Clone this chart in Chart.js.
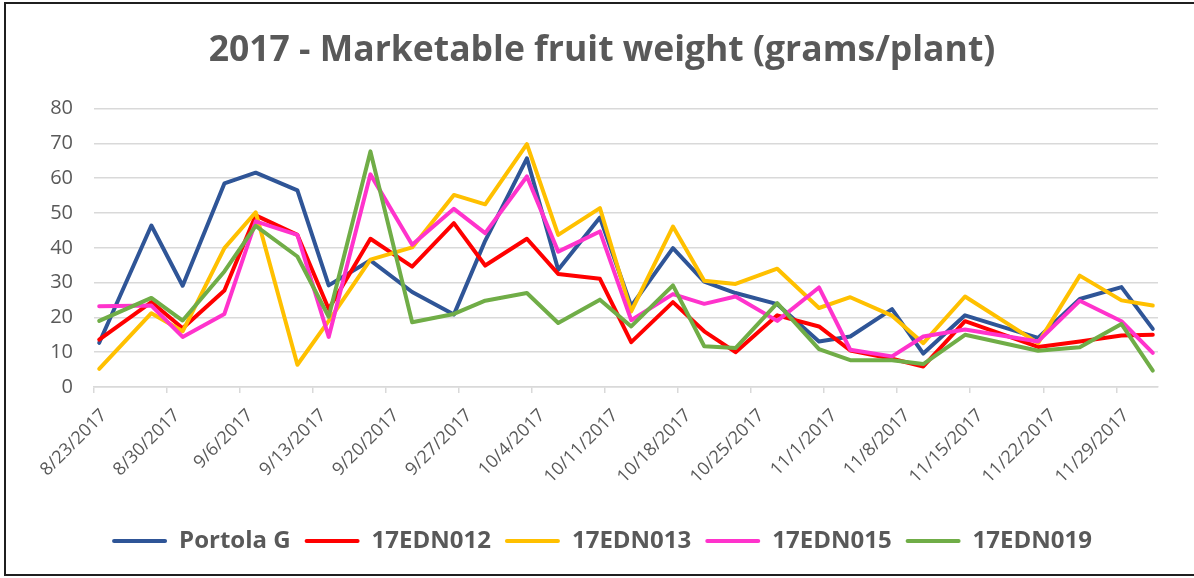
<!DOCTYPE html>
<html>
<head>
<meta charset="utf-8">
<title>2017 - Marketable fruit weight</title>
<script src="https://cdn.jsdelivr.net/npm/chart.js@4/dist/chart.umd.min.js"></script>
<style>
  html, body { margin: 0; padding: 0; background: #fff; overflow: hidden; }
  #wrap { position: relative; width: 1194px; height: 578px; }
  #frame {
    position: absolute; left: 4px; top: 2px; width: 1210px; height: 570px;
    border: 2px solid #1f1f1f; pointer-events: none;
  }
</style>
</head>
<body>
<div id="wrap">
  <canvas id="chart" width="1194" height="578"></canvas>
  <div id="frame"></div>
</div>
<script>
// Harvest dates (x categories)
const harvestDates = [
  '8/23/2017', '8/28/2017', '8/31/2017', '9/4/2017', '9/7/2017', '9/11/2017', '9/14/2017',
  '9/18/2017', '9/22/2017', '9/26/2017', '9/29/2017', '10/3/2017', '10/6/2017', '10/10/2017',
  '10/13/2017', '10/17/2017', '10/20/2017', '10/23/2017', '10/27/2017', '10/31/2017', '11/3/2017',
  '11/7/2017', '11/10/2017', '11/14/2017', '11/21/2017', '11/25/2017', '11/29/2017', '12/2/2017'
];

// Marketable fruit weight, grams/plant
const portolaG = [12.7, 46.4, 29.1, 58.5, 61.6, 56.5, 29.2, 36.4, 27.3, 20.8, 42.0, 65.7, 33.7, 48.7,
  23.2, 39.9, 30.3, 27.0, 23.8, 13.1, 14.5, 22.4, 9.6, 20.6, 14.1, 25.3, 28.7, 16.7];
const edn012 = [13.6, 24.4, 16.9, 27.7, 49.3, 43.7, 22.4, 42.6, 34.6, 47.1, 34.9, 42.6, 32.5, 31.1,
  12.9, 24.4, 16.0, 10.0, 20.6, 17.4, 10.5, 8.1, 5.9, 18.9, 11.5, 13.1, 14.8, 15.0];
const edn013 = [5.2, 21.2, 16.0, 39.9, 50.2, 6.4, 19.0, 36.6, 40.1, 55.2, 52.5, 69.8, 43.7, 51.4,
  21.7, 46.1, 30.5, 29.6, 34.0, 22.7, 25.8, 20.5, 12.6, 26.0, 12.6, 32.0, 24.9, 23.4];
const edn015 = [23.2, 23.4, 14.4, 21.0, 47.6, 43.7, 14.4, 61.1, 40.9, 51.2, 44.2, 60.5, 38.9, 44.7,
  19.2, 26.7, 23.9, 26.0, 19.0, 28.6, 10.7, 8.8, 14.5, 16.5, 13.1, 24.8, 18.9, 9.8];
const edn019 = [19.0, 25.6, 19.1, 33.2, 46.3, 37.5, 20.2, 67.7, 18.6, 21.0, 24.8, 27.0, 18.4, 25.1,
  17.4, 29.2, 11.7, 11.2, 24.1, 10.9, 7.7, 7.7, 6.6, 15.0, 10.4, 11.4, 18.1, 4.7];

const seriesNames = ['Portola G', '17EDN012', '17EDN013', '17EDN015', '17EDN019'];
const seriesValues = [portolaG, edn012, edn013, edn015, edn019];
const seriesColors = ['#2F5597', '#FF0000', '#FFC000', '#FF33CC', '#70AD47'];

const yTicks = [0, 10, 20, 30, 40, 50, 60, 70, 80];
const firstDate = '8/23/2017';
const lastDate = '12/2/2017';

const DAY = 86400000;
function toUtc(s) {
  const [m, d, y] = s.split('/').map(Number);
  return Date.UTC(y, m - 1, d);
}
const startUtc = toUtc(firstDate);
// x value: each day is one unit wide, point sits in the middle of its day
function dayPos(s) {
  return Math.round((toUtc(s) - startUtc) / DAY) + 0.5;
}
function dateLabel(v) {
  const dt = new Date(startUtc + v * DAY);
  return (dt.getUTCMonth() + 1) + '/' + dt.getUTCDate() + '/' + dt.getUTCFullYear();
}

const textColor = '#595959';
const gridColor = '#d9d9d9';
const fontFamily = '"Open Sans", Lato, sans-serif';

const datasets = seriesNames.map((name, i) => ({
  label: name,
  data: harvestDates.map((d, j) => ({ x: dayPos(d), y: seriesValues[i][j] })),
  borderColor: seriesColors[i],
  backgroundColor: seriesColors[i],
  borderWidth: 4,
  borderJoinStyle: 'round',
  borderCapStyle: 'round',
  pointRadius: 0,
  tension: 0,
  fill: false,
  order: seriesNames.length - i
}));

new Chart(document.getElementById('chart'), {
  type: 'line',
  data: { datasets: datasets },
  options: {
    responsive: false,
    animation: false,
    layout: { padding: { left: 46, right: 36, top: 0, bottom: 15 } },
    plugins: {
      tooltip: { enabled: false },
      title: {
        display: true,
        text: '2017 - Marketable fruit weight (grams/plant)',
        color: textColor,
        font: { family: fontFamily, size: 35.5, weight: 'bold' },
        padding: { top: 30, bottom: 36 }
      },
      legend: {
        position: 'bottom',
        labels: {
          color: textColor,
          font: { family: fontFamily, size: 24, weight: 'bold' },
          boxWidth: 55,
          boxHeight: 4,
          padding: 14,
          sort: (a, b) => a.datasetIndex - b.datasetIndex,
          generateLabels: (chart) =>
            Chart.defaults.plugins.legend.labels.generateLabels(chart)
              .map(l => Object.assign(l, { lineWidth: 0, borderRadius: 2 }))
        }
      }
    },
    scales: {
      x: {
        type: 'linear',
        min: 0,
        max: dayPos(lastDate) + 0.5,
        afterFit: (scale) => { scale.height = 128; },
        grid: {
          drawOnChartArea: false,
          drawTicks: true,
          tickLength: 6,
          color: gridColor,
          lineWidth: 1.5
        },
        border: { display: true, color: gridColor, width: 1.5 },
        ticks: {
          stepSize: 7,
          maxTicksLimit: 20,
          autoSkip: false,
          includeBounds: false,
          minRotation: 45,
          maxRotation: 45,
          labelOffset: 10,
          padding: 12,
          color: textColor,
          font: { family: fontFamily, size: 18 },
          callback: (v) => dateLabel(v)
        }
      },
      y: {
        min: yTicks[0],
        max: yTicks[yTicks.length - 1],
        afterFit: (scale) => { scale.width = 48; },
        grid: { color: gridColor, lineWidth: 1.5, drawTicks: false },
        border: { display: false },
        ticks: {
          stepSize: yTicks[1] - yTicks[0],
          padding: 21,
          color: textColor,
          font: { family: fontFamily, size: 20 }
        }
      }
    }
  }
});
</script>
</body>
</html>
